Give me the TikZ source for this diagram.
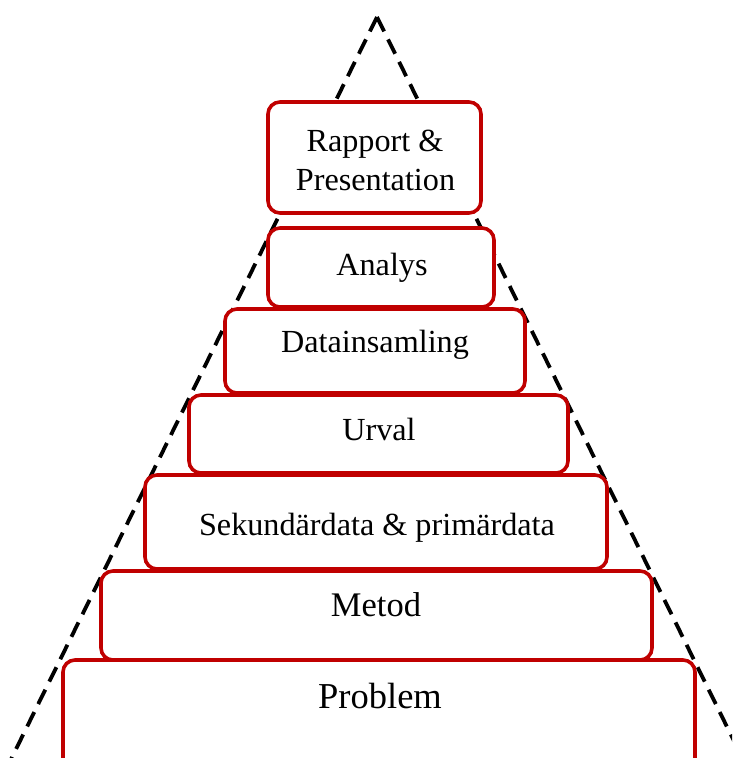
\documentclass[tikz,border=0pt]{standalone}
\usepackage{fontspec}
\setmainfont{Liberation Serif}
\definecolor{boxred}{HTML}{C00000}
\tikzset{
  stepbox/.style={draw=boxred, line width=3.6pt, fill=white, rounded corners=12pt,
    inner sep=0pt, outer sep=0pt},
  lbl/.style={inner sep=0pt, font=\fontsize{32.2}{39}\selectfont, align=center},
  guide/.style={draw=black, line width=3.8pt, dash pattern=on 16pt off 9pt}
}
\begin{document}
\begin{tikzpicture}[x=1pt,y=-1pt]
\useasboundingbox (0,0) rectangle (732,758);
\clip (0,0) rectangle (732,758);
% dashed pyramid outline
\coordinate (apex) at (377,17);
\coordinate (leftfoot) at (-15,812);
\coordinate (rightfoot) at (769,812);
\draw[guide] (apex) -- (leftfoot);
\draw[guide] (apex) -- (rightfoot);
% the steps, top to bottom
\node[stepbox, minimum width=213pt, minimum height=111pt] (rapport) at (374.5,157.5) {};
\node[stepbox, minimum width=226pt, minimum height=79pt] (analys) at (381,267.5) {};
\node[stepbox, minimum width=300pt, minimum height=84pt] (data) at (375,351) {};
\node[stepbox, minimum width=379pt, minimum height=78pt] (urval) at (378.5,434) {};
\node[stepbox, minimum width=462pt, minimum height=94pt] (sek) at (376,522) {};
\node[stepbox, minimum width=551pt, minimum height=89pt] (metod) at (376.5,615.5) {};
\node[stepbox, minimum width=632pt, minimum height=115pt] (problem) at (379,717.5) {};
% labels
\node[lbl, anchor=base] (trapport) at (375,151) {Rapport \&};
\node[lbl, anchor=base] (tpres) at (375.5,190) {Presentation};
\node[lbl, anchor=base] (tanalys) at (382,275) {Analys};
\node[lbl, anchor=base] (tdata) at (375,352) {Datainsamling};
\node[lbl, anchor=base] (turval) at (379,440) {Urval};
\node[lbl, anchor=base] (tsek) at (377,535) {Sekundärdata \& primärdata};
\node[lbl, anchor=base, font=\fontsize{34.5}{40}\selectfont] (tmetod) at (376,616) {Metod};
\node[lbl, anchor=base, font=\fontsize{36.5}{42}\selectfont] (tproblem) at (380,708) {Problem};
\end{tikzpicture}
\end{document}
